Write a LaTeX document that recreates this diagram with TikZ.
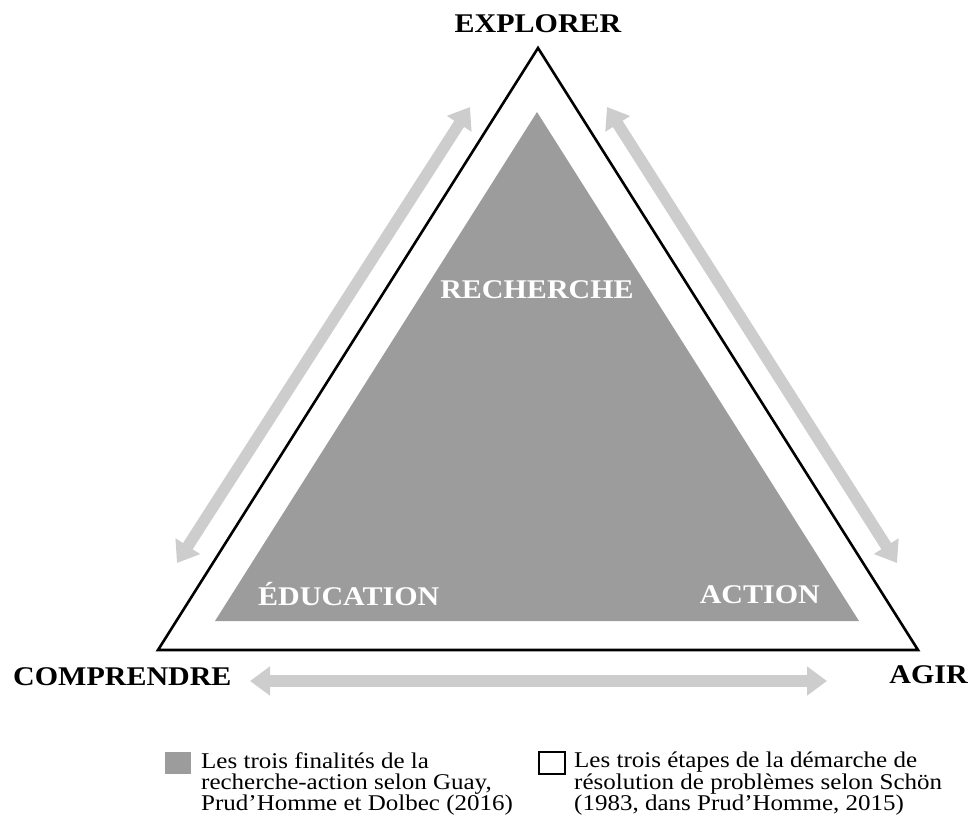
\documentclass[tikz,border=0pt]{standalone}
\usepackage{fontspec}
\setmainfont{Liberation Serif}
\usetikzlibrary{arrows.meta}
\definecolor{tri_gray}{RGB}{156, 156, 156}
\definecolor{arw_gray}{RGB}{205, 205, 205}
\tikzstyle{tn}=[font=\fontsize{30}{30}\selectfont\bfseries,inner sep=0pt,yscale=0.9]
\tikzstyle{wn}=[tn,text=white]
\tikzstyle{ln}=[font=\fontsize{25}{23.8}\selectfont,inner sep=0pt,
  align=left,anchor=north west,yscale=0.9]
\tikzstyle{sq}=[rectangle,inner sep=0pt,minimum width=26pt,minimum height=22pt]
\tikzstyle{arw}=[draw=arw_gray,line width=11.5pt,
  {Triangle[width=28pt,length=20pt]}-{Triangle[width=28pt,length=20pt]}]

\begin{document}
\begin{tikzpicture}[x=1pt,y=-1pt]
    \useasboundingbox (0,0) rectangle (972,830);
    \coordinate (e) at (538,48);
    \coordinate (c) at (158,650);
    \coordinate (a) at (918,650);
    \coordinate (ge) at (537,112);
    \coordinate (gc) at (215,621);
    \coordinate (ga) at (859,621);
    \fill[tri_gray] (ge) -- (gc) -- (ga) -- cycle;
    \draw[line width=2.6pt] (e) -- (c) -- (a) -- cycle;
    \coordinate (l1) at (470,107);
    \coordinate (l2) at (177,563);
    \coordinate (r1) at (607,107);
    \coordinate (r2) at (897,563);
    \coordinate (b1) at (250,681);
    \coordinate (b2) at (827,681);
    \draw[arw] (l1) -- (l2);
    \draw[arw] (r1) -- (r2);
    \draw[arw] (b1) -- (b2);
    \node[tn,anchor=base] (explorer) at (538,32) {EXPLORER};
    \node[tn,anchor=base west] (comprendre) at (13,685) {COMPRENDRE};
    \node[tn,anchor=base east] (agir) at (968,683) {AGIR};
    \node[wn,anchor=base] (recherche) at (537,298) {RECHERCHE};
    \node[wn,anchor=base west] (education) at (258,605) {ÉDUCATION};
    \node[wn,anchor=base east] (action) at (820,603) {ACTION};
    \node[sq,fill=tri_gray] (sq1) at (178,763) {};
    \node[ln] (leg1) at (201,752) {Les trois finalités de la\\
      recherche-action selon Guay,\\Prud’Homme et Dolbec (2016)};
    \node[sq,draw=black,line width=1.6pt,fill=white] (sq2) at (552,763) {};
    \node[ln] (leg2) at (574,752) {Les trois étapes de la démarche de\\
      résolution de problèmes selon Schön\\(1983, dans Prud’Homme, 2015)};
\end{tikzpicture}
\end{document}
